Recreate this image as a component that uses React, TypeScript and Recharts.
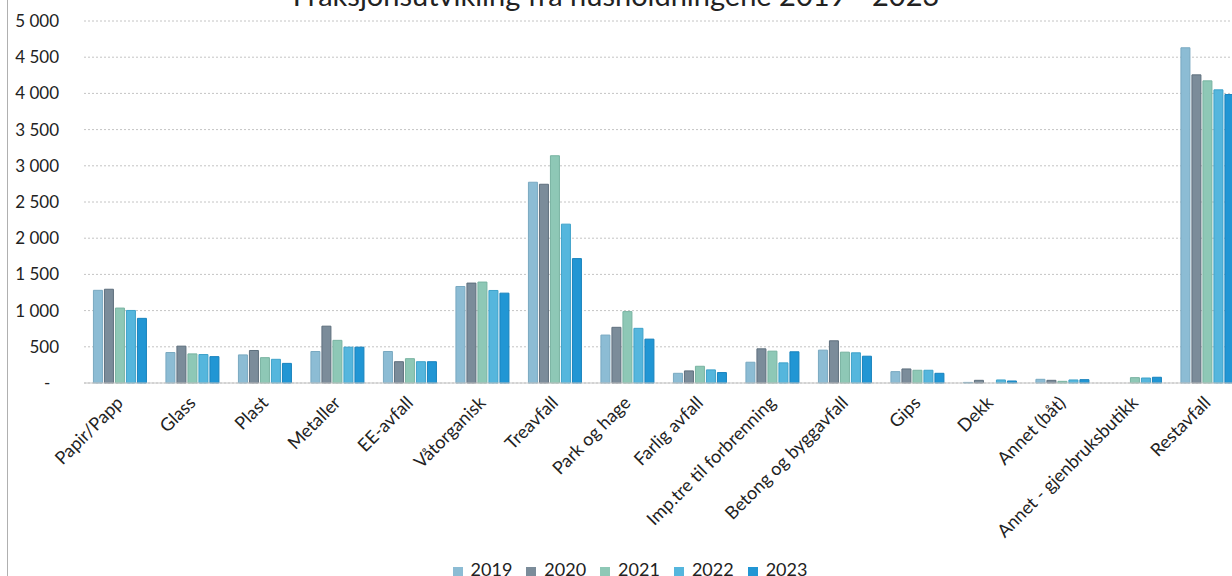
import { Bar, BarChart, CartesianGrid, Legend, XAxis, YAxis } from "recharts";

const categories = [
  "Papir/Papp",
  "Glass",
  "Plast",
  "Metaller",
  "EE-avfall",
  "Våtorganisk",
  "Treavfall",
  "Park og hage",
  "Farlig avfall",
  "Imp.tre til forbrenning",
  "Betong og byggavfall",
  "Gips",
  "Dekk",
  "Annet (båt)",
  "Annet - gjenbruksbutikk",
  "Restavfall",
];

const y2019 = [1280, 421, 388, 435, 435, 1333, 2773, 662, 134, 287, 454, 157, 8, 51, 0, 4630];
const y2020 = [1295, 509, 449, 785, 294, 1380, 2745, 769, 167, 472, 583, 194, 37, 37, 0, 4256];
const y2021 = [1035, 402, 350, 589, 336, 1394, 3139, 986, 231, 440, 426, 176, 0, 23, 74, 4173];
const y2022 = [1002, 393, 327, 495, 294, 1278, 2194, 755, 181, 278, 417, 176, 42, 42, 69, 4049];
const y2023 = [893, 364, 271, 495, 294, 1241, 1718, 606, 144, 431, 370, 134, 28, 46, 79, 3984];

const yTicks = [0, 500, 1000, 1500, 2000, 2500, 3000, 3500, 4000, 4500, 5000];

const series = [
  { key: "2019", fill: "#8cbcd4", stroke: "#79a9c1" },
  { key: "2020", fill: "#7b8c9a", stroke: "#5e6f7d" },
  { key: "2021", fill: "#8ec8b6", stroke: "#78b3a1" },
  { key: "2022", fill: "#55b6dd", stroke: "#3ea2c9" },
  { key: "2023", fill: "#2196d4", stroke: "#1782bd" },
];

const data = categories.map((name, i) => ({
  name,
  "2019": y2019[i],
  "2020": y2020[i],
  "2021": y2021[i],
  "2022": y2022[i],
  "2023": y2023[i],
}));

const FONT = "Lato, 'Liberation Sans', sans-serif";

function formatY(v: number) {
  if (v === 0) return "-\u00a0\u00a0";
  return v.toLocaleString("en-US").replace(/,/g, " ");
}

function XTick({ x, y, payload }: any) {
  return (
    <g transform={`translate(${x + 4},${y + 13})`}>
      <text
        x={0}
        y={0}
        textAnchor="end"
        transform="rotate(-45)"
        fontSize={18}
        fontFamily={FONT}
        fill="#222"
      >
        {payload.value}
      </text>
    </g>
  );
}

export default function App() {
  return (
    <div
      style={{
        position: "absolute",
        left: 0,
        top: 0,
        width: 1232,
        height: 576,
        overflow: "hidden",
        background: "#fff",
        fontFamily: FONT,
      }}
    >
      <div
        style={{
          position: "absolute",
          left: 7,
          top: 0,
          width: 0,
          height: 576,
          borderLeft: "1px solid #b0b0b0",
        }}
      />
      <div
        style={{
          position: "absolute",
          left: 0,
          width: 1232,
          top: -22,
          textAlign: "center",
          fontSize: 29,
          lineHeight: "34px",
          color: "#222",
        }}
      >
        Fraksjonsutvikling fra husholdningene 2019 - 2023
      </div>
      <BarChart
        width={1250}
        height={600}
        data={data}
        margin={{ top: 21, right: 6, left: 8, bottom: 0 }}
        barCategoryGap="13%"
        barGap={2}
      >
        <CartesianGrid vertical={false} stroke="#c4c4c4" strokeDasharray="2 2" />
        <XAxis
          dataKey="name"
          interval={0}
          height={193}
          tick={<XTick />}
          tickLine={false}
          axisLine={{ stroke: "#c4c4c4" }}
        />
        <YAxis
          width={76}
          domain={[0, 5000]}
          ticks={yTicks}
          tickFormatter={formatY}
          tickLine={false}
          axisLine={false}
          tickSize={0}
          tickMargin={25}
          tick={{ fontSize: 17, fill: "#222", fontFamily: FONT }}
        />
        <Legend
          verticalAlign="bottom"
          height={24}
          iconType="square"
          iconSize={10}
          wrapperStyle={{ top: 558, bottom: "auto", left: 0, width: 1274 }}
          formatter={(v: string) => (
            <span style={{ color: "#222", fontSize: 18, marginLeft: 4, marginRight: 4 }}>{v}</span>
          )}
        />
        {series.map((s) => (
          <Bar
            key={s.key}
            dataKey={s.key}
            fill={s.fill}
            stroke={s.stroke}
            strokeWidth={1}
            isAnimationActive={false}
          />
        ))}
      </BarChart>
    </div>
  );
}
